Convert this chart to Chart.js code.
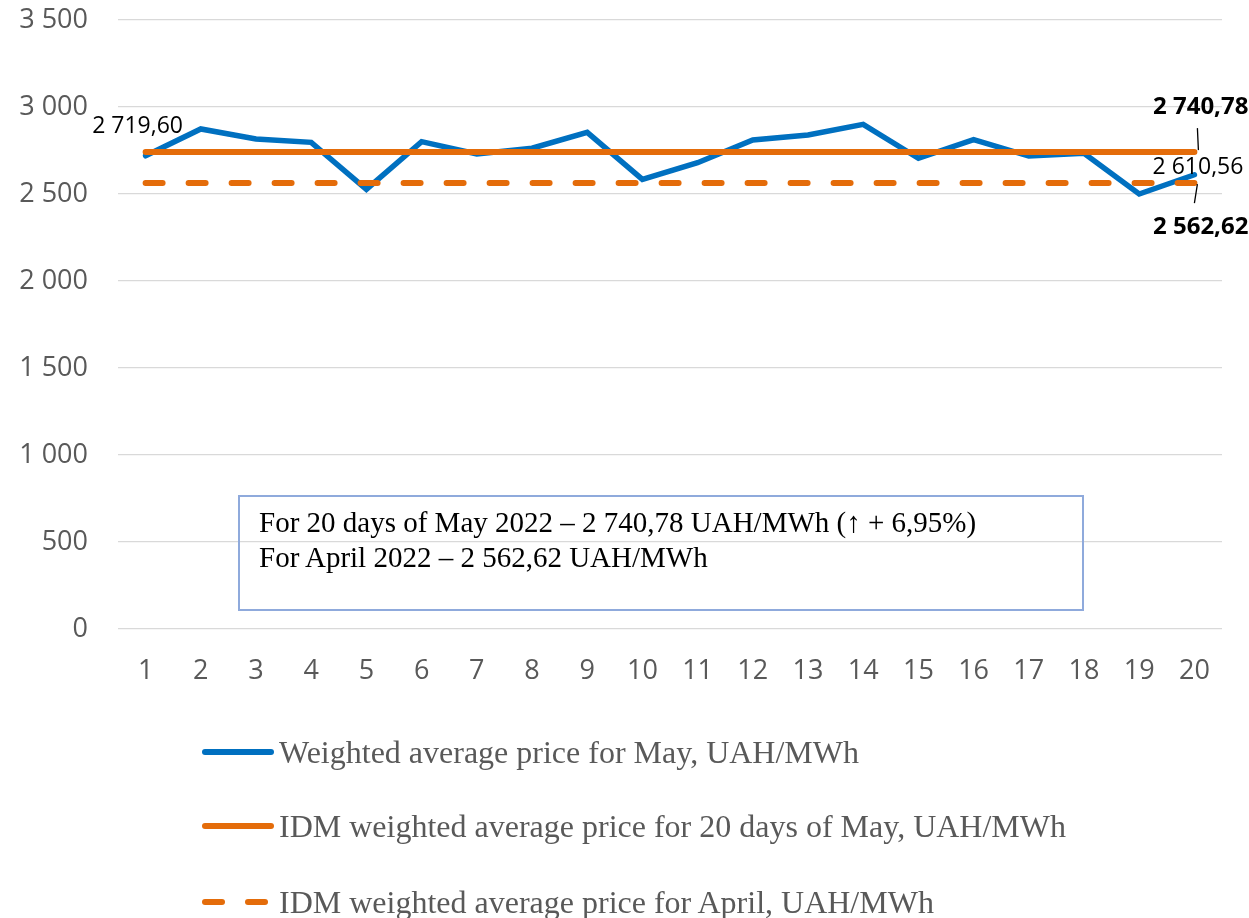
<!DOCTYPE html>
<html>
<head>
<meta charset="utf-8">
<script src="https://cdn.jsdelivr.net/npm/chart.js@4.4.1/dist/chart.umd.min.js"></script>
<style>
  html, body { margin: 0; padding: 0; background: #fff; }
  #wrap { position: relative; width: 1249px; height: 918px; overflow: hidden; }
  #chart { position: absolute; left: 0; top: 0; }
  .note {
    position: absolute; left: 238px; top: 495px; width: 842px; height: 112px;
    border: 2px solid #8FAADC; box-sizing: content-box;
    font-family: 'Liberation Serif', 'Times New Roman', serif; font-size: 29px;
    line-height: 35px; color: #000; padding: 0; 
  }
  .note div { padding-left: 19px; white-space: nowrap; }
  .note div:first-child { margin-top: 8px; }
  .legend { position: absolute; left: 202px; font-family: 'Liberation Serif', 'Times New Roman', serif;
    font-size: 32px; line-height: 40px; color: #595959; display: flex; align-items: center; white-space: nowrap; }
  .mk { display: inline-block; height: 6px; border-radius: 3px; }
  .mk-solid { width: 72px; margin-right: 5px; }
  .mk-dash { width: 23px; margin-right: 20px; }
  .mk-dash + .mk-dash { margin-right: 11px; }
</style>
</head>
<body>
<div id="wrap">
  <canvas id="chart" width="1249" height="918"></canvas>
  <div class="note">
    <div>For 20 days of May 2022 – 2 740,78 UAH/MWh (↑ + 6,95%)</div>
    <div>For April 2022 – 2 562,62 UAH/MWh</div>
  </div>
  <div class="legend" style="top:732px"><span class="mk mk-solid" style="background:#0070C0"></span>Weighted average price for May, UAH/MWh</div>
  <div class="legend" style="top:806px"><span class="mk mk-solid" style="background:#E46C0A"></span>IDM weighted average price for 20 days of May, UAH/MWh</div>
  <div class="legend" style="top:882px"><span class="mk mk-dash" style="background:#E46C0A"></span><span class="mk mk-dash" style="background:#E46C0A"></span>IDM weighted average price for April, UAH/MWh</div>
</div>
<script>
  // days of May
  var DAYS = ['1', '2', '3', '4', '5', '6', '7', '8', '9', '10',
              '11', '12', '13', '14', '15', '16', '17', '18', '19', '20'];

  // daily weighted average price, UAH/MWh
  var MAY_DAILY = [2719.60, 2874, 2816, 2797, 2527, 2801, 2730, 2763, 2854, 2584,
                   2680, 2810, 2839, 2900, 2705, 2813, 2718, 2734, 2500, 2610.56];

  // IDM averages, drawn as flat lines
  var MAY_AVG = [2740.78, 2740.78, 2740.78, 2740.78, 2740.78, 2740.78, 2740.78, 2740.78, 2740.78, 2740.78,
                 2740.78, 2740.78, 2740.78, 2740.78, 2740.78, 2740.78, 2740.78, 2740.78, 2740.78, 2740.78];
  var APRIL_AVG = [2562.62, 2562.62, 2562.62, 2562.62, 2562.62, 2562.62, 2562.62, 2562.62, 2562.62, 2562.62,
                   2562.62, 2562.62, 2562.62, 2562.62, 2562.62, 2562.62, 2562.62, 2562.62, 2562.62, 2562.62];

  var Y_TICKS = [0, 500, 1000, 1500, 2000, 2500, 3000, 3500];

  var BLUE = '#0070C0';
  var ORANGE = '#E46C0A';

  function fmt(v, dec) {
    var s = v.toFixed(dec);
    var parts = s.split('.');
    var int = parts[0].replace(/\B(?=(\d{3})+(?!\d))/g, ' ');
    return parts.length > 1 ? int + ',' + parts[1] : int;
  }

  // value labels and leader lines
  var labelsPlugin = {
    id: 'valueLabels',
    afterDatasetsDraw: function (chart) {
      var ctx = chart.ctx;
      var xs = chart.scales.x, ys = chart.scales.y;
      var last = DAYS.length - 1;
      var x1 = xs.getPixelForValue(0), xN = xs.getPixelForValue(last);
      ctx.save();
      ctx.textBaseline = 'middle';
      ctx.fillStyle = '#000';

      ctx.font = '23px "Open Sans", sans-serif';
      ctx.textAlign = 'center';
      ctx.fillText(fmt(MAY_DAILY[0], 2), x1 - 8, ys.getPixelForValue(MAY_DAILY[0]) - 29);

      ctx.textAlign = 'right';
      ctx.fillText(fmt(MAY_DAILY[last], 2), xN + 49, ys.getPixelForValue(MAY_DAILY[last]) - 7);

      ctx.font = 'bold 24px "Open Sans", sans-serif';
      var yMay = ys.getPixelForValue(MAY_AVG[last]);
      var yApr = ys.getPixelForValue(APRIL_AVG[last]);
      ctx.fillText(fmt(MAY_AVG[last], 2), xN + 54, yMay - 45);
      ctx.fillText(fmt(APRIL_AVG[last], 2), xN + 54, yApr + 44);

      ctx.strokeStyle = '#000';
      ctx.lineWidth = 1.3;
      ctx.beginPath();
      ctx.moveTo(xN + 3, yMay - 24);
      ctx.lineTo(xN + 4, yMay - 2);
      ctx.moveTo(xN + 3, yApr + 1);
      ctx.lineTo(xN, yApr + 20);
      ctx.stroke();
      ctx.restore();
    }
  };

  new Chart(document.getElementById('chart'), {
    type: 'line',
    data: {
      labels: DAYS,
      datasets: [
        {
          label: 'Weighted average price for May, UAH/MWh',
          data: MAY_DAILY,
          borderColor: BLUE,
          borderWidth: 5.5,
          borderCapStyle: 'round',
          pointRadius: 0,
          tension: 0,
          order: 2
        },
        {
          label: 'IDM weighted average price for 20 days of May, UAH/MWh',
          data: MAY_AVG,
          borderColor: ORANGE,
          borderWidth: 6,
          borderCapStyle: 'round',
          pointRadius: 0,
          order: 1
        },
        {
          label: 'IDM weighted average price for April, UAH/MWh',
          data: APRIL_AVG,
          borderColor: ORANGE,
          borderWidth: 6,
          borderCapStyle: 'round',
          borderDash: [17, 26],
          pointRadius: 0,
          order: 0
        }
      ]
    },
    options: {
      responsive: false,
      animation: false,
      events: [],
      layout: { padding: { top: 20, right: 27, left: 0, bottom: 229 } },
      plugins: { legend: { display: false }, tooltip: { enabled: false } },
      scales: {
        x: {
          offset: true,
          grid: { display: false, drawTicks: false },
          border: { display: false },
          ticks: {
            color: '#595959', padding: 26, maxRotation: 0, autoSkip: false,
            font: { family: '"Open Sans", sans-serif', size: 27 }
          },
          afterFit: function (s) { s.height = 60; s.paddingLeft = 0; s.paddingRight = 0; }
        },
        y: {
          min: 0, max: 3500,
          grid: { color: '#D9D9D9', lineWidth: 1.3, drawTicks: false },
          border: { display: false },
          afterBuildTicks: function (s) { s.ticks = Y_TICKS.map(function (v) { return { value: v }; }); },
          ticks: {
            color: '#595959', padding: 30,
            font: { family: '"Open Sans", sans-serif', size: 27 },
            callback: function (v) { return fmt(v, 0); }
          },
          afterFit: function (s) { s.width = 118; s.paddingTop = 0; s.paddingBottom = 0; }
        }
      }
    },
    plugins: [labelsPlugin]
  });
</script>
</body>
</html>
